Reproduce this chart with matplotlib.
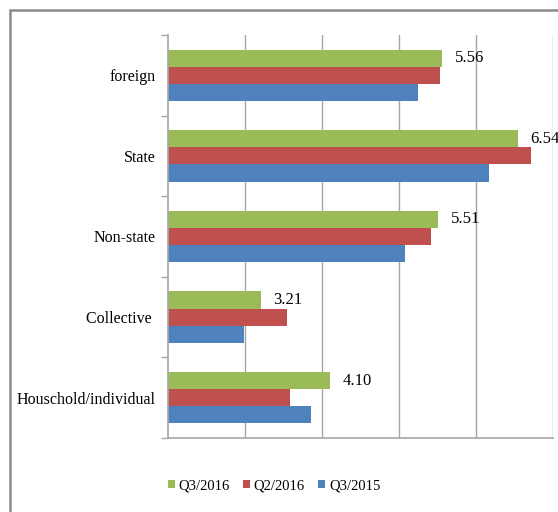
import numpy as np
import matplotlib
matplotlib.use("Agg")
import matplotlib.pyplot as plt
from matplotlib.patches import Rectangle

# categories listed top to bottom
categories = ["foreign", "State", "Non-state", "Collective ", "Houschold/individual"]
q3_2016 = [5.56, 6.54, 5.51, 3.21, 4.10]
q2_2016 = [5.53, 6.71, 5.42, 3.55, 3.59]
q3_2015 = [5.25, 6.17, 5.08, 2.99, 3.86]
series_names = ["Q3/2016", "Q2/2016", "Q3/2015"]

green, red, blue = "#9BBB59", "#C0504D", "#4F81BD"
grid_col = "#A6A6A6"

plt.rcParams['font.family'] = ['Liberation Serif', 'DejaVu Serif']

fig = plt.figure(figsize=(5.58, 5.12), dpi=100)
ax = fig.add_axes([168/558, 1 - 438/512, (553 - 168)/558, (438 - 35)/512])

y = np.arange(len(categories))
h = 0.213
base = 2.0
# bars start at the axis minimum (2), so width = value - base
b1 = ax.barh(y - h, np.array(q3_2016) - base, height=h, left=base, color=green, label=series_names[0])
b2 = ax.barh(y, np.array(q2_2016) - base, height=h, left=base, color=red, label=series_names[1])
b3 = ax.barh(y + h, np.array(q3_2015) - base, height=h, left=base, color=blue, label=series_names[2])

ax.bar_label(b1, labels=['%.2f' % v for v in q3_2016], padding=9, fontsize=12)

ax.set_xlim(2, 7)
ax.set_ylim(4.5, -0.5)
ax.set_xticks([3, 4, 5, 6, 7])
ax.set_xticklabels([])
ax.tick_params(axis='x', length=0)
ax.xaxis.grid(True, color=grid_col, lw=1)
ax.set_axisbelow(True)

ax.set_yticks(np.arange(-0.5, 5, 1))
ax.set_yticklabels([])
ax.set_yticks(y, minor=True)
ax.set_yticklabels(categories, minor=True, fontsize=11.5)
ax.tick_params(axis='y', which='major', length=5, color=grid_col, width=1)
ax.tick_params(axis='y', which='minor', length=0, pad=9)

for s in ['top', 'right']:
    ax.spines[s].set_visible(False)
for s in ['left', 'bottom']:
    ax.spines[s].set_color(grid_col)
    ax.spines[s].set_linewidth(1.2)

# outer chart frame (partially cut off on the right and bottom)
fig.add_artist(Rectangle((9.5/558, -0.1), 1.2, 1.1 - 10/512, transform=fig.transFigure,
                         fill=False, edgecolor="#8C8C8C", lw=1.8))

fig.legend(handles=[b1, b2, b3], loc='center', bbox_to_anchor=(0.491, 1 - 486/512), ncol=3,
           frameon=False, fontsize=10.5, handlelength=0.5, handleheight=0.5,
           handletextpad=0.25, columnspacing=0.9)

fig.savefig("out.png", dpi=100)
